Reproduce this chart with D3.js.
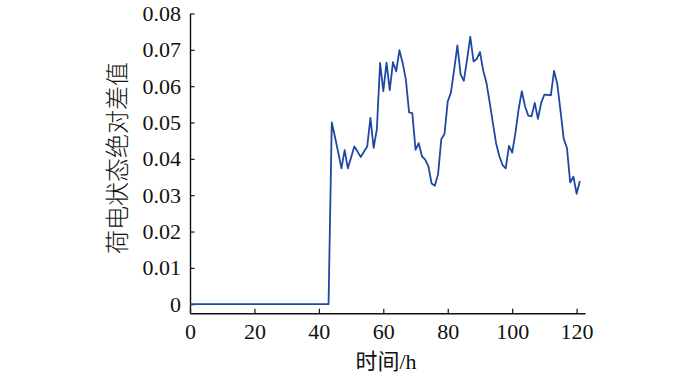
<!DOCTYPE html>
<html>
<head>
<meta charset="utf-8">
<script src="https://cdn.jsdelivr.net/npm/d3@7/dist/d3.min.js"></script>
<style>
  html, body { margin: 0; padding: 0; background: #fff; }
  svg { display: block; }
</style>
</head>
<body>
<svg id="chart" width="700" height="375"></svg>
<script>
// ---- data ----
const xTickValues = [0, 20, 40, 60, 80, 100, 120];
const yTickValues = [0, 0.01, 0.02, 0.03, 0.04, 0.05, 0.06, 0.07, 0.08];
const xLabel = "时间/h";
const yLabel = "荷电状态绝对差值";
// absolute SOC difference, one value per hour starting at hour 0
const socDiff = [
  0, 0, 0, 0, 0, 0, 0, 0, 0, 0,
  0, 0, 0, 0, 0, 0, 0, 0, 0, 0,
  0, 0, 0, 0, 0, 0, 0, 0, 0, 0,
  0, 0, 0, 0, 0, 0, 0, 0, 0, 0,
  0, 0, 0, 0,
  0.0500, 0.0460, 0.0418, 0.0374, 0.0424, 0.0374, 0.0404, 0.0434, 0.0420, 0.0405,
  0.0420, 0.0434, 0.0513, 0.0430, 0.0482, 0.0664, 0.0586, 0.0665, 0.0589, 0.0666,
  0.0641, 0.0699, 0.0664, 0.0618, 0.0528, 0.0526, 0.0425, 0.0443, 0.0407, 0.0398,
  0.0379, 0.0332, 0.0326, 0.0358, 0.0454, 0.0469, 0.0558, 0.0583, 0.0646, 0.0712,
  0.0632, 0.0615, 0.0673, 0.0736, 0.0668, 0.0675, 0.0694, 0.0643, 0.0610, 0.0556,
  0.0499, 0.0443, 0.0408, 0.0383, 0.0374, 0.0436, 0.0417, 0.0471, 0.0537, 0.0586,
  0.0544, 0.0519, 0.0517, 0.0554, 0.0510, 0.0554, 0.0577, 0.0576, 0.0575, 0.0642,
  0.0606, 0.0532, 0.0455, 0.0430, 0.0335, 0.0351, 0.0304, 0.0339
];
const hours = socDiff.map((_, i) => i);

// ---- layout ----
const svg = d3.select("#chart");
const x = d3.scaleLinear().domain([0, 122.6]).range([190, 585]);
const y = d3.scaleLinear().domain([-0.0025, 0.08]).range([313.3, 13.5]);

const numFont = "'Liberation Serif', 'Times New Roman', serif";
const cjkFont = "'Liberation Serif', 'Noto Sans CJK SC', serif";

// x axis
const xAxis = d3.axisBottom(x)
  .tickValues(xTickValues)
  .tickSizeInner(-4.5)
  .tickSizeOuter(0)
  .tickPadding(10)
  .tickFormat(d3.format("d"));
const gx = svg.append("g")
  .attr("transform", `translate(0,${y.range()[0]})`)
  .call(xAxis);

// y axis
const yAxis = d3.axisLeft(y)
  .tickValues(yTickValues)
  .tickSizeInner(-4.5)
  .tickSizeOuter(0)
  .tickPadding(9)
  .tickFormat(d => d === 0 ? "0" : d3.format(".2f")(d));
const gy = svg.append("g")
  .attr("transform", `translate(${x.range()[0]},0)`)
  .call(yAxis);

[gx, gy].forEach(g => {
  g.select(".domain").attr("stroke", "#111").attr("stroke-width", 1.4);
  g.selectAll(".tick line").attr("stroke", "#111").attr("stroke-width", 1.2);
  g.selectAll(".tick text")
    .attr("fill", "#111")
    .style("font-family", numFont)
    .style("font-size", "22px");
});

// line
const line = d3.line()
  .x((d, i) => x(hours[i]))
  .y(d => y(d));
svg.append("path")
  .datum(socDiff)
  .attr("fill", "none")
  .attr("stroke", "#1f48a3")
  .attr("stroke-width", 1.8)
  .attr("stroke-linejoin", "round")
  .attr("d", line);

// axis titles
svg.append("text")
  .attr("x", 386)
  .attr("y", 369)
  .attr("text-anchor", "middle")
  .attr("fill", "#111")
  .style("font-family", cjkFont)
  .style("font-size", "22px")
  .text(xLabel);

svg.append("text")
  .attr("transform", "translate(126,158) rotate(-90)")
  .attr("text-anchor", "middle")
  .attr("fill", "#111")
  .style("font-family", "'Noto Sans CJK SC', sans-serif")
  .style("font-weight", 300)
  .style("font-size", "24px")
  .text(yLabel);
</script>
</body>
</html>
